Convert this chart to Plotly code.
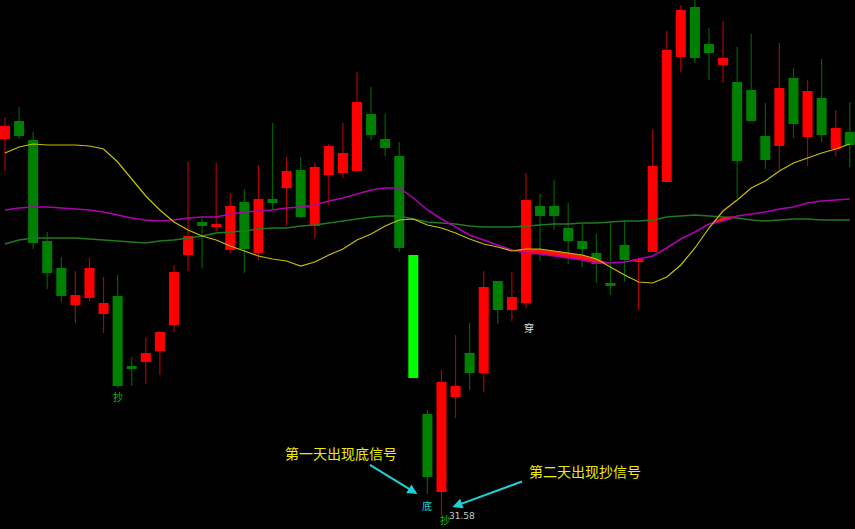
import plotly.graph_objects as go

# ---- data ----
opens = [39.10, 39.46, 39.08, 37.06, 36.52, 35.78, 35.92, 35.60, 35.96, 34.56,
         34.64, 34.86, 35.38, 36.78, 37.44, 37.34, 36.88, 37.84, 36.82, 37.90,
         38.12, 38.48, 37.36, 38.38, 38.42, 38.46, 39.60, 39.10, 38.76, 36.78,
         33.60, 32.04, 33.94, 34.82, 34.42, 36.26, 35.68, 35.82, 37.76, 37.76,
         37.32, 37.06, 36.82, 36.22, 36.98, 36.64, 36.84, 38.24, 40.74, 41.74,
         41.00, 40.58, 40.24, 40.08, 39.16, 38.96, 40.32, 39.14, 39.92, 38.90, 39.24]
highs = [39.54, 39.74, 39.24, 37.24, 36.74, 36.46, 36.72, 36.34, 36.38, 34.74,
         35.12, 35.26, 36.58, 38.64, 37.56, 38.62, 38.02, 38.10, 38.58, 39.42,
         38.74, 38.74, 38.62, 39.00, 39.42, 40.44, 40.14, 39.60, 39.04, 36.78,
         33.68, 34.48, 35.18, 35.42, 36.46, 36.26, 36.44, 38.42, 38.00, 38.28,
         37.82, 37.40, 37.20, 37.42, 37.48, 36.74, 39.28, 41.26, 41.78, 41.94,
         41.32, 41.46, 40.94, 41.20, 39.82, 41.02, 40.52, 40.28, 40.70, 39.68, 39.84]
lows = [38.46, 39.10, 36.90, 36.10, 35.84, 35.42, 35.86, 35.22, 34.12, 34.16,
        34.20, 34.38, 35.24, 36.46, 36.52, 37.26, 36.82, 36.42, 36.68, 37.70,
        37.36, 37.52, 37.12, 37.78, 38.32, 38.46, 39.08, 38.76, 36.84, 34.32,
        32.00, 31.58, 33.52, 34.08, 34.04, 35.40, 35.46, 35.72, 36.66, 37.28,
        36.60, 36.54, 36.22, 35.98, 36.24, 35.68, 36.84, 38.24, 40.44, 40.62,
        40.28, 40.22, 37.92, 39.46, 38.50, 38.48, 39.12, 38.56, 39.04, 38.76, 38.54]
closes = [39.36, 39.16, 37.02, 36.42, 35.96, 35.98, 36.52, 35.82, 34.16, 34.50,
          34.82, 35.24, 36.44, 37.16, 37.36, 37.40, 37.76, 36.90, 37.90, 37.82,
          38.46, 37.54, 38.54, 38.96, 38.82, 39.84, 39.18, 38.92, 36.92, 34.32,
          32.34, 34.24, 34.16, 34.42, 36.14, 35.68, 35.94, 37.88, 37.56, 37.56,
          37.06, 36.90, 36.60, 36.16, 36.68, 36.70, 38.56, 40.88, 41.68, 40.72,
          40.82, 40.72, 38.66, 39.46, 38.68, 40.12, 39.40, 40.06, 39.18, 39.32, 38.98]

ma_yellow = [38.82, 38.94, 39.00, 38.98, 38.98, 38.98, 38.96, 38.90, 38.64, 38.30,
             37.96, 37.68, 37.44, 37.28, 37.16, 37.08, 36.96, 36.86, 36.76, 36.70,
             36.66, 36.56, 36.64, 36.78, 36.90, 37.08, 37.20, 37.36, 37.48, 37.50,
             37.38, 37.32, 37.22, 37.10, 37.00, 36.94, 36.86, 36.90, 36.90, 36.86,
             36.82, 36.78, 36.70, 36.54, 36.38, 36.24, 36.22, 36.34, 36.58, 36.92,
             37.32, 37.66, 37.88, 38.12, 38.26, 38.46, 38.62, 38.72, 38.82, 38.90, 39.00]
ma_magenta = [37.68, 37.72, 37.74, 37.74, 37.72, 37.70, 37.68, 37.64, 37.58, 37.52,
              37.48, 37.46, 37.48, 37.52, 37.54, 37.54, 37.60, 37.64, 37.66, 37.68,
              37.72, 37.74, 37.78, 37.86, 37.92, 38.00, 38.08, 38.12, 38.12, 37.92,
              37.68, 37.50, 37.34, 37.18, 37.08, 36.98, 36.88, 36.82, 36.80, 36.76,
              36.72, 36.68, 36.62, 36.62, 36.64, 36.70, 36.76, 36.92, 37.10, 37.24,
              37.40, 37.46, 37.56, 37.60, 37.64, 37.70, 37.74, 37.82, 37.86, 37.88, 37.90]
ma_green = [37.00, 37.08, 37.12, 37.12, 37.12, 37.12, 37.10, 37.08, 37.06, 37.04,
            37.02, 37.06, 37.08, 37.12, 37.16, 37.22, 37.24, 37.26, 37.30, 37.32,
            37.32, 37.36, 37.38, 37.42, 37.46, 37.50, 37.54, 37.56, 37.56, 37.50,
            37.44, 37.42, 37.40, 37.36, 37.34, 37.34, 37.34, 37.36, 37.38, 37.40,
            37.40, 37.42, 37.42, 37.44, 37.46, 37.46, 37.48, 37.54, 37.56, 37.58,
            37.56, 37.54, 37.52, 37.48, 37.46, 37.48, 37.50, 37.50, 37.48, 37.48, 37.48]

limit_down_days = [29]
signal_chao = [8, 31]     # 抄
signal_di = [30]          # 底
signal_chuan = [37]       # 穿

# ---- figure ----
n = len(opens)
idx = list(range(n))
up = [c >= o for o, c in zip(opens, closes)]
body_lo = [min(o, c) for o, c in zip(opens, closes)]
body_hi = [max(o, c) for o, c in zip(opens, closes)]

fig = go.Figure()

# wicks (only the parts outside the body, since bars sit below scatter layers)
for is_up, col in [(True, "#B00000"), (False, "#006000")]:
    xs, ys = [], []
    for i in idx:
        if up[i] == is_up and i not in limit_down_days:
            if highs[i] > body_hi[i]:
                xs += [i, i, None]
                ys += [body_hi[i], highs[i], None]
            if lows[i] < body_lo[i]:
                xs += [i, i, None]
                ys += [lows[i], body_lo[i], None]
    fig.add_trace(go.Scatter(x=xs, y=ys, mode="lines",
                             line=dict(color=col, width=1.2), hoverinfo="skip"))

# bodies
body_colors = []
for i in idx:
    if i in limit_down_days:
        body_colors.append("#00FF00")
    elif up[i]:
        body_colors.append("#FF0000")
    else:
        body_colors.append("#008000")
height = [max(h - l, 0.05) for h, l in zip(body_hi, body_lo)]
fig.add_trace(go.Bar(x=idx, y=height, base=body_lo, width=0.71,
                     marker=dict(color=body_colors, line=dict(width=0)),
                     hoverinfo="skip"))

# red band between magenta and yellow/green
band_top = [max(m, min(y, g)) for y, m, g in zip(ma_yellow, ma_magenta, ma_green)]
fig.add_trace(go.Scatter(x=idx, y=ma_magenta, mode="lines",
                         line=dict(width=0, color="rgba(0,0,0,0)"), hoverinfo="skip"))
fig.add_trace(go.Scatter(x=idx, y=band_top, mode="lines", fill="tonexty",
                         fillcolor="#FF1010",
                         line=dict(width=0, color="rgba(0,0,0,0)"), hoverinfo="skip"))

# moving averages
fig.add_trace(go.Scatter(x=idx, y=ma_green, mode="lines",
                         line=dict(color="#1F7A1F", width=1.5), hoverinfo="skip"))
fig.add_trace(go.Scatter(x=idx, y=ma_magenta, mode="lines",
                         line=dict(color="#B000B0", width=1.5), hoverinfo="skip"))
fig.add_trace(go.Scatter(x=idx, y=ma_yellow, mode="lines",
                         line=dict(color="#C8C000", width=1.2), hoverinfo="skip"))

cjk = "Noto Sans CJK SC"
ann = []
for i in signal_chao:
    ann.append(dict(x=i, y=lows[i], xref="x", yref="y", text="抄", showarrow=False,
                    yshift=-8 if i != 31 else -4, xshift=0 if i != 31 else 4,
                    font=dict(family=cjk, size=10, color="#00C800")))
for i in signal_di:
    ann.append(dict(x=i, y=lows[i], xref="x", yref="y", text="底", showarrow=False,
                    yshift=-11, font=dict(family=cjk, size=10, color="#20D0D0")))
for i in signal_chuan:
    ann.append(dict(x=i, y=lows[i], xref="x", yref="y", text="穿", showarrow=False,
                    yshift=-19, xshift=3, font=dict(family=cjk, size=10, color="#E0E0E0")))
lo_i = lows.index(min(lows))
ann.append(dict(x=lo_i, y=lows[lo_i], xref="x", yref="y", text=f"{lows[lo_i]:.2f}",
                showarrow=False, xshift=21, yshift=-1,
                font=dict(family="DejaVu Sans", size=9, color="#C8C8C8")))

# callout texts
ann.append(dict(x=341 / 855, y=1 - 453 / 529, xref="paper", yref="paper",
                xanchor="center", yanchor="middle",
                text="第一天出现底信号", showarrow=False,
                font=dict(family=cjk, size=14, color="#EEEE00")))
ann.append(dict(x=585 / 855, y=1 - 471 / 529, xref="paper", yref="paper",
                xanchor="center", yanchor="middle",
                text="第二天出现抄信号", showarrow=False,
                font=dict(family=cjk, size=14, color="#EEEE00")))
# arrows
ann.append(dict(x=signal_di[0], y=lows[signal_di[0]], xref="x", yref="y", text="",
                showarrow=True, arrowhead=2, arrowsize=1, arrowwidth=2,
                arrowcolor="#20D0D8", ax=-49, ay=-30, xshift=-10))
ann.append(dict(x=lo_i, y=lows[lo_i], xref="x", yref="y", text="",
                showarrow=True, arrowhead=2, arrowsize=1, arrowwidth=2,
                arrowcolor="#20D0D8", ax=71, ay=-26, xshift=11, yshift=8))

fig.update_layout(
    width=855, height=529,
    margin=dict(l=0, r=0, t=0, b=0),
    paper_bgcolor="#000000", plot_bgcolor="#000000",
    showlegend=False, barmode="overlay",
    xaxis=dict(visible=False, range=[-0.355, 60.37], fixedrange=True),
    yaxis=dict(visible=False, range=[31.30, 41.88], fixedrange=True),
    annotations=ann,
)

fig.write_html(
    "out.html",
    config=dict(displayModeBar=False),
    post_script="document.body.style.margin='0';document.body.style.padding='0';"
                "document.body.style.overflow='hidden';document.body.style.background='#000';",
)
